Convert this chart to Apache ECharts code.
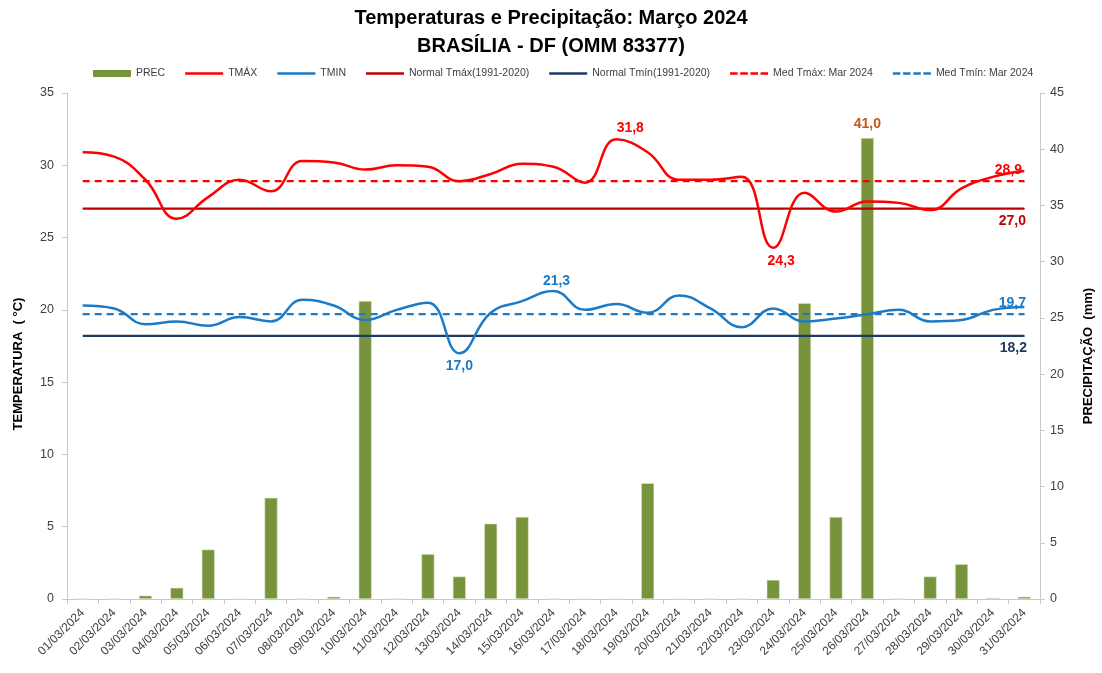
<!DOCTYPE html>
<html><head><meta charset="utf-8">
<script src="https://cdn.jsdelivr.net/npm/echarts@6/dist/echarts.min.js"></script>
<style>html,body{margin:0;padding:0;background:#fff}#c{width:1102px;height:673px}</style>
</head><body><div id="c"></div>
<script>
const days = ['01/03/2024','02/03/2024','03/03/2024','04/03/2024','05/03/2024','06/03/2024','07/03/2024','08/03/2024','09/03/2024','10/03/2024','11/03/2024','12/03/2024','13/03/2024','14/03/2024','15/03/2024','16/03/2024','17/03/2024','18/03/2024','19/03/2024','20/03/2024','21/03/2024','22/03/2024','23/03/2024','24/03/2024','25/03/2024','26/03/2024','27/03/2024','28/03/2024','29/03/2024','30/03/2024','31/03/2024'];
const prec = [0,0,0.3,1.0,4.4,0,9.0,0,0.2,26.5,0,4.0,2.0,6.7,7.3,0,0,0,10.3,0,0,0,1.7,26.3,7.3,41.0,0,2.0,3.1,0.1,0.2];
const tmax = [30.9,30.6,29.0,26.3,27.8,29.0,28.2,30.3,30.2,29.7,30.0,29.9,28.9,29.4,30.1,29.9,28.8,31.8,30.9,29.0,29.0,29.2,24.3,28.1,26.8,27.5,27.4,26.9,28.4,29.2,29.6];
const tmin = [20.3,20.1,19.0,19.2,18.9,19.5,19.2,20.7,20.3,19.3,20.0,20.5,17.0,19.8,20.6,21.3,20.0,20.4,19.8,21.0,20.1,18.8,20.1,19.2,19.4,19.7,20.0,19.2,19.3,20.0,20.2];
const normTmax = 27.0, normTmin = 18.2, medTmax = 28.9, medTmin = 19.7;
const tempTicks = [0,5,10,15,20,25,30,35];
const precTicks = [0,5,10,15,20,25,30,35,40,45];

const FONT = 'Liberation Sans, Arial, sans-serif';
const fmt = v => Number(v).toFixed(1).replace('.', ',');
const lbl = (color, position, distance, offset) => ({show: true, position, distance, offset: offset || [0, 0],
  formatter: p => fmt(p.value), color, fontWeight: 'bold', fontSize: 14, fontFamily: FONT});
const pt = (v, label) => ({value: v, symbol: 'circle', symbolSize: 1, label});

function withExtremes(arr, color, topDist, botDist, topOff, botOff) {
  const mx = Math.max(...arr), mn = Math.min(...arr);
  const iMax = arr.indexOf(mx), iMin = arr.indexOf(mn);
  return arr.map((v, i) => {
    if (i === iMax) return pt(v, lbl(color, 'top', topDist, topOff));
    if (i === iMin) return pt(v, lbl(color, 'bottom', botDist, botOff));
    return v;
  });
}
function constLine(val, color, pos, dist, offset) {
  return days.map((d, i) => i === days.length - 1 ? pt(val, lbl(color, pos, dist, offset)) : val);
}
const pmax = Math.max(...prec);
const precData = prec.map(v => v === pmax ? {value: v, label: lbl('#c55a11', 'top', 7)} : v);

// legend icons (line / dashed line shapes)
const ICON_LINE = 'path://M0,0h38v2.6h-38Z';
const ICON_DASH = 'path://M0,0h7.5v2.6h-7.5Z M10.2,0h7.5v2.6h-7.5Z M20.4,0h7.5v2.6h-7.5Z M30.5,0h7.5v2.6h-7.5Z';
const noBorder = {borderWidth: 0};

const chart = echarts.init(document.getElementById('c'));
chart.setOption({
  animation: false,
  title: [
    {text: 'Temperaturas e Precipitação: Março 2024', left: 'center', top: 3, textStyle: {fontSize: 20, fontWeight: 'bold', color: '#000', fontFamily: FONT}},
    {text: 'BRASÍLIA - DF (OMM 83377)', left: 'center', top: 31, textStyle: {fontSize: 20, fontWeight: 'bold', color: '#000', fontFamily: FONT}}
  ],
  legend: {
    top: 68, left: 93, padding: 0, itemGap: 20, itemWidth: 38, itemHeight: 7,
    textStyle: {fontSize: 10.5, color: '#404040', fontFamily: FONT},
    data: [
      {name: 'PREC', icon: 'rect', itemStyle: noBorder},
      {name: 'TMÁX', icon: ICON_LINE, itemStyle: noBorder},
      {name: 'TMIN', icon: ICON_LINE, itemStyle: noBorder},
      {name: 'Normal Tmáx(1991-2020)', icon: ICON_LINE, itemStyle: noBorder},
      {name: 'Normal Tmín(1991-2020)', icon: ICON_LINE, itemStyle: noBorder},
      {name: 'Med Tmáx: Mar 2024', icon: ICON_DASH, itemStyle: noBorder},
      {name: 'Med Tmín: Mar 2024', icon: ICON_DASH, itemStyle: noBorder}
    ]
  },
  graphic: [
    {type: 'text', x: 18, y: 364, rotation: Math.PI / 2,
      style: {text: 'TEMPERATURA  ( °C)', fontSize: 13, fontWeight: 'bold', fill: '#000', fontFamily: FONT, align: 'center', verticalAlign: 'middle'}},
    {type: 'text', x: 1088, y: 356, rotation: Math.PI / 2,
      style: {text: 'PRECIPITAÇÃO  (mm)', fontSize: 13, fontWeight: 'bold', fill: '#000', fontFamily: FONT, align: 'center', verticalAlign: 'middle'}}
  ],
  grid: {left: 67, right: 62, top: 93, bottom: 74, containLabel: false},
  xAxis: {
    type: 'category', data: days, boundaryGap: true,
    axisLine: {lineStyle: {color: '#c8c8c8'}},
    axisTick: {show: true, alignWithLabel: false, length: 5, lineStyle: {color: '#c8c8c8'}},
    axisLabel: {interval: 0, rotate: 45, fontSize: 12, color: '#404040', fontFamily: FONT, margin: 12}
  },
  yAxis: [
    {
      type: 'value', min: tempTicks[0], max: tempTicks[tempTicks.length - 1], interval: 5,
      axisLine: {show: true, lineStyle: {color: '#c8c8c8'}},
      axisTick: {show: true, length: 5, lineStyle: {color: '#c8c8c8'}},
      splitLine: {show: false},
      axisLabel: {fontSize: 12.5, color: '#404040', fontFamily: FONT, margin: 13}
    },
    {
      type: 'value', min: precTicks[0], max: precTicks[precTicks.length - 1], interval: 5,
      axisLine: {show: true, lineStyle: {color: '#c8c8c8'}},
      axisTick: {show: true, length: 5, lineStyle: {color: '#c8c8c8'}},
      splitLine: {show: false},
      axisLabel: {fontSize: 12.5, color: '#404040', fontFamily: FONT, margin: 10}
    }
  ],
  series: [
    {name: 'PREC', type: 'bar', yAxisIndex: 1, data: precData, barWidth: 13,
      itemStyle: {color: '#77933c', borderColor: '#dfe8cf', borderWidth: 0.6}},
    {name: 'TMÁX', type: 'line', data: withExtremes(tmax, '#ff0000', 4, 5.5, [14, 0], [8, 0]), smooth: 0.45, symbol: 'none',
      lineStyle: {color: '#ff0000', width: 2.5}, itemStyle: {color: '#ff0000'}, z: 5},
    {name: 'TMIN', type: 'line', data: withExtremes(tmin, '#1b7bc7', 2, 5.5, [3, 0], [0, 0]), smooth: 0.45, symbol: 'none',
      lineStyle: {color: '#1b7bc7', width: 2.5}, itemStyle: {color: '#1b7bc7'}, z: 5},
    {name: 'Normal Tmáx(1991-2020)', type: 'line', data: constLine(normTmax, '#c00000', 'bottom', 4.5, [-12, 0]), symbol: 'none',
      lineStyle: {color: '#c00000', width: 2.2}, itemStyle: {color: '#c00000'}, z: 4},
    {name: 'Normal Tmín(1991-2020)', type: 'line', data: constLine(normTmin, '#1f3864', 'bottom', 4.5, [-11, 0]), symbol: 'none',
      lineStyle: {color: '#1f3864', width: 2.2}, itemStyle: {color: '#1f3864'}, z: 4},
    {name: 'Med Tmáx: Mar 2024', type: 'line', data: constLine(medTmax, '#ff0000', 'top', 4, [-16, 0]), symbol: 'none',
      lineStyle: {color: '#ff0000', width: 2.2, type: [7, 5]}, itemStyle: {color: '#ff0000'}, z: 4},
    {name: 'Med Tmín: Mar 2024', type: 'line', data: constLine(medTmin, '#1b7bc7', 'top', 4, [-12, 0]), symbol: 'none',
      lineStyle: {color: '#1b7bc7', width: 2.2, type: [7, 5]}, itemStyle: {color: '#1b7bc7'}, z: 4}
  ]
});
</script>
</body></html>
